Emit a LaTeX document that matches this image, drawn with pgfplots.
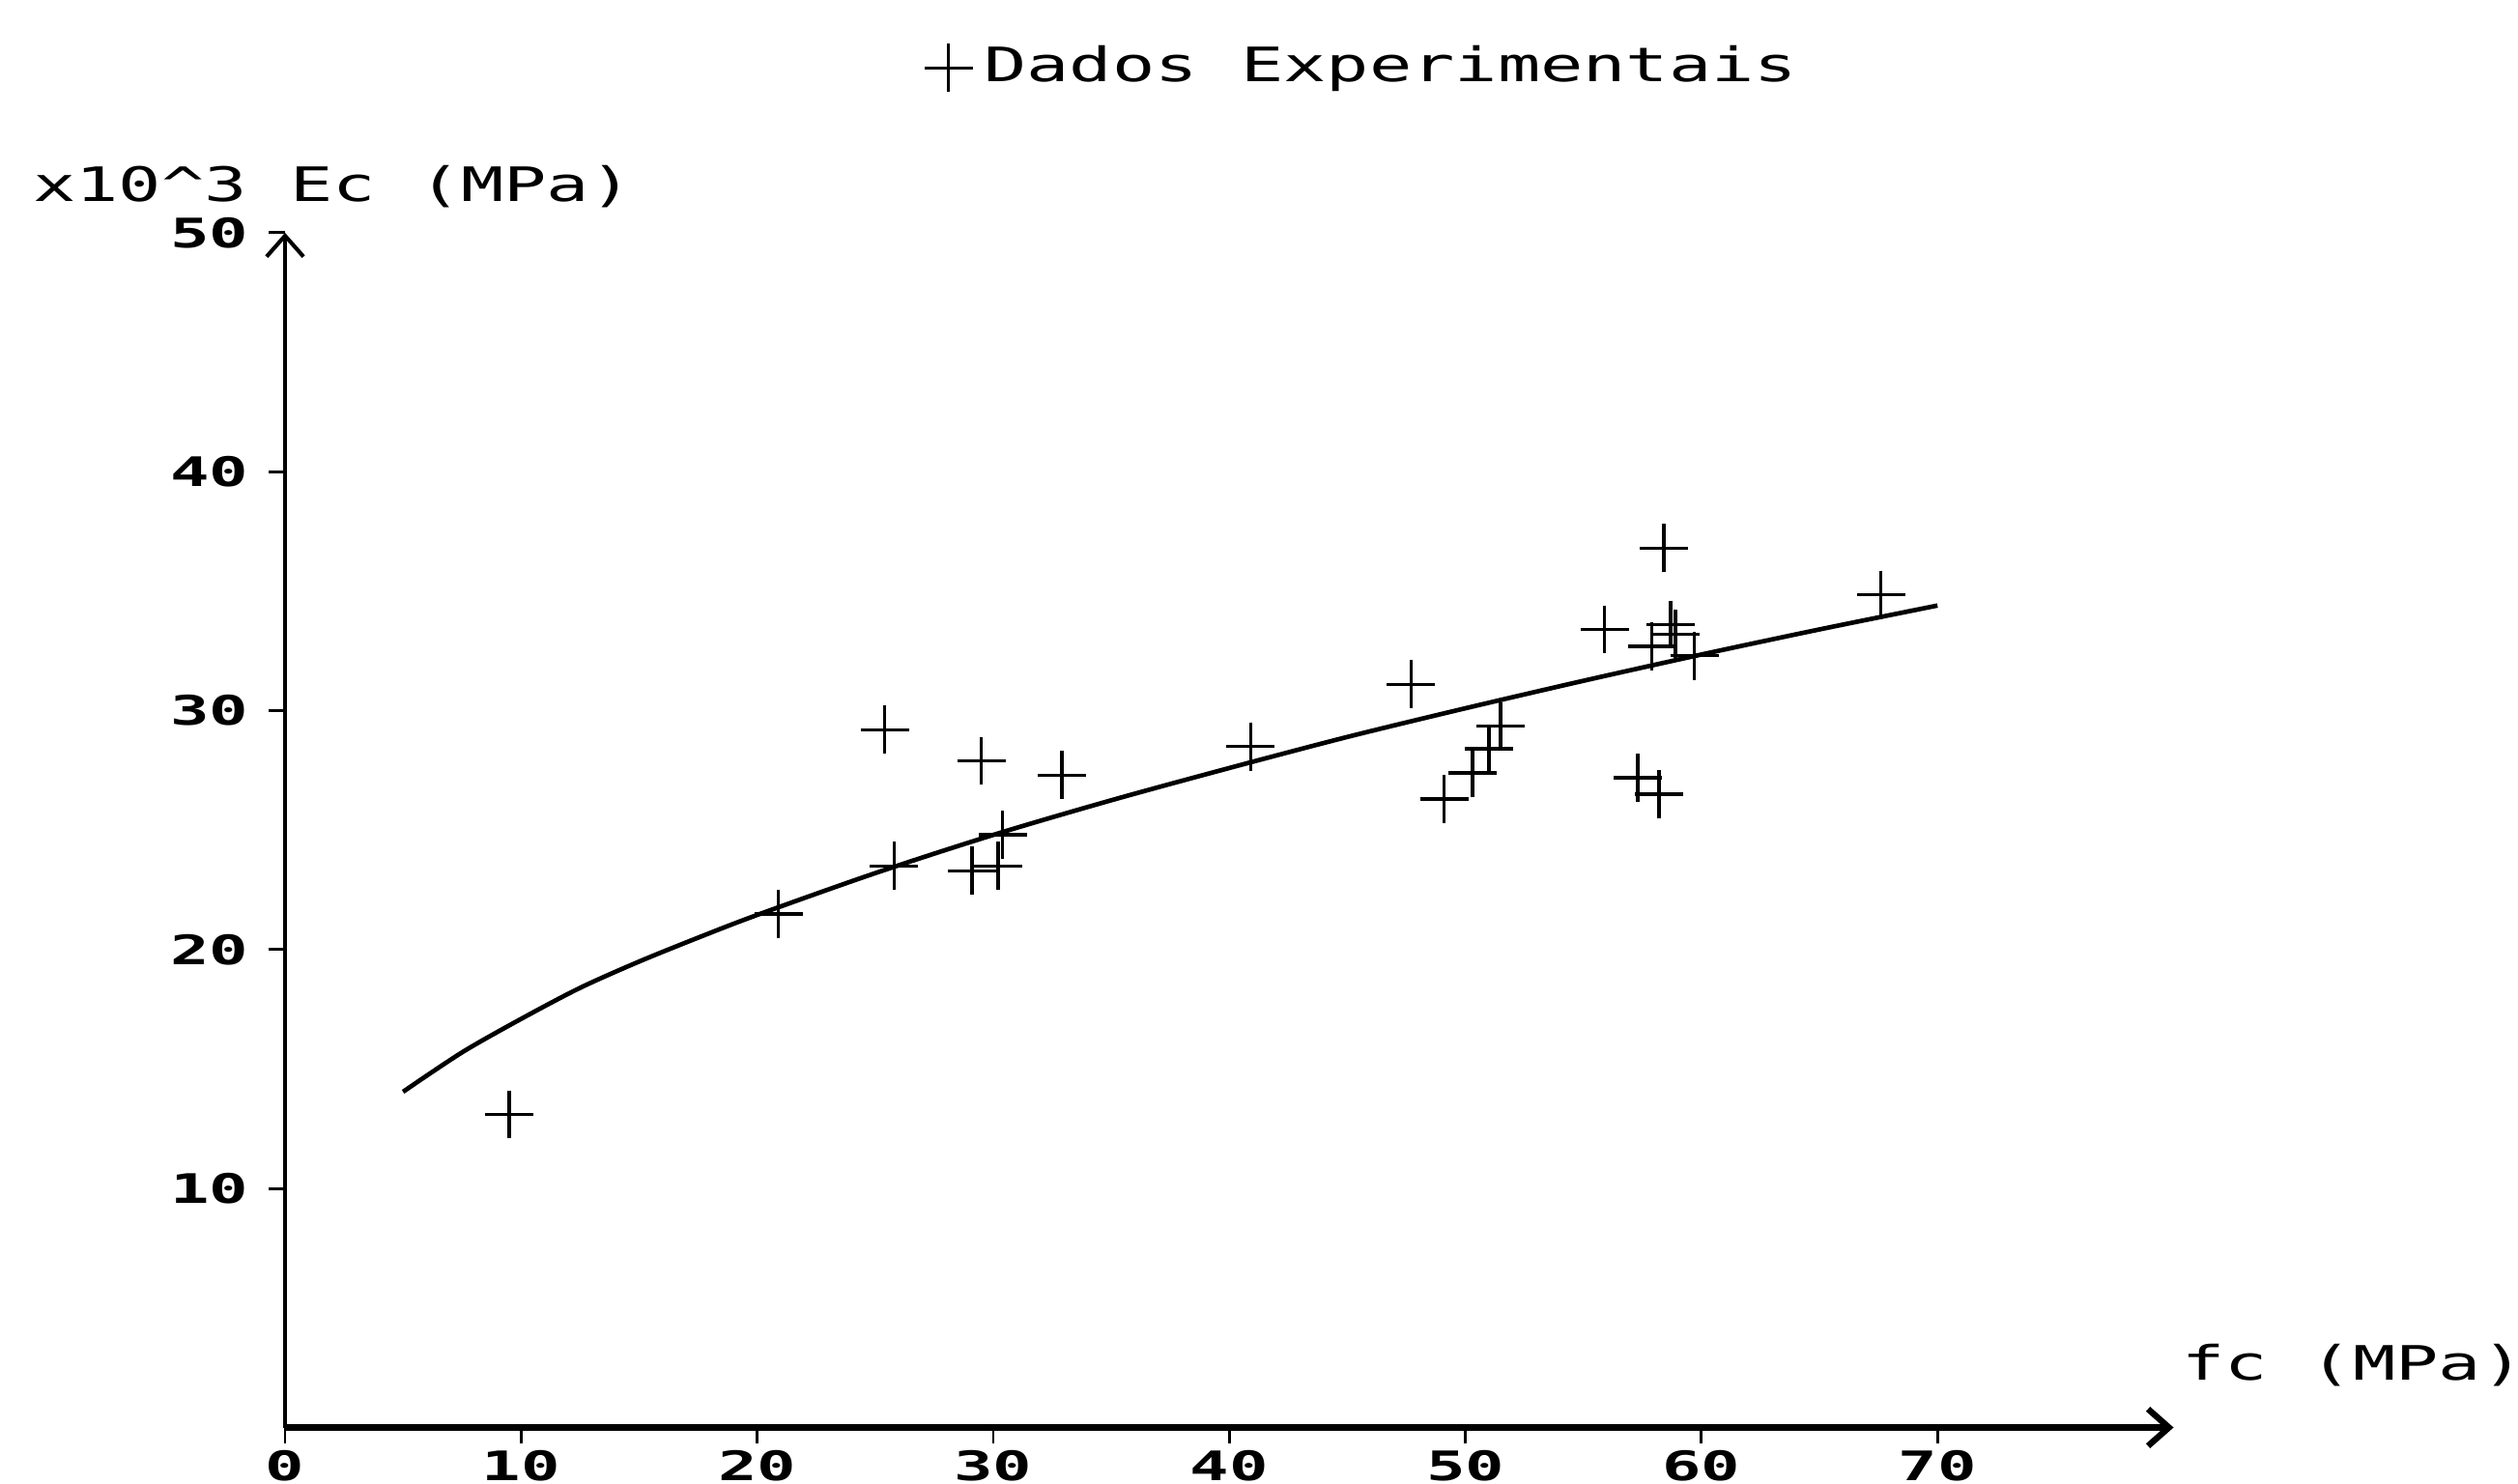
\documentclass[border=0pt]{standalone}
\usepackage{fontspec}
\usepackage{pgfplots}
\pgfplotsset{compat=1.18}
\usetikzlibrary{arrows.meta}
\setmainfont{DejaVu Sans Mono}
\newfontfamily\labfont[FakeStretch=1.5]{DejaVu Sans Mono}
\newfontfamily\tickfont[FakeStretch=1.6]{DejaVu Sans Mono}

\begin{document}
\begin{tikzpicture}
\useasboundingbox (0,0) rectangle (156.8mm,92.4mm);
\begin{axis}[
  at={(17.75mm,3.5mm)}, anchor=origin,
  x=1.47mm, y=1.488mm,
  xmin=0, xmax=80, ymin=0, ymax=50,
  axis lines=left,
  x axis line style={line width=1.1pt, -{Straight Barb[length=1.3mm,width=2.3mm]}},
  y axis line style={line width=0.7pt, -{Straight Barb[length=1.3mm,width=2.3mm]}},
  xtick={0,10,...,70}, ytick={10,20,...,50},
  tick align=outside, major tick length=1mm,
  tick style={line width=0.5pt, black},
  /pgf/number format/assume math mode=true,
  ticklabel style={font={\tickfont\bfseries\fontsize{7.2}{8}\selectfont}},
  xticklabel style={anchor=north, inner sep=0pt, yshift=-0.35mm},
  yticklabel style={anchor=east, inner sep=0pt, xshift=-1.2mm},
  xlabel={fc (MPa)}, ylabel={x10\textasciicircum 3 Ec (MPa)},
  label style={font={\labfont\fontsize{8.4}{9}\selectfont}},
  xlabel style={at={(axis description cs:1.00375,0.052)}, anchor=west, inner sep=0pt},
  ylabel style={at={(axis description cs:-0.134,1.039)}, anchor=west, rotate=-90, inner sep=0pt},
  clip=false,
  legend style={at={(axis description cs:0.338,1.138)}, anchor=west, draw=none, fill=none,
    inner sep=0pt, font={\labfont\fontsize{8.4}{9}\selectfont}},
  legend image code/.code={\draw[mark=+, mark size=1.5mm, line width=0.6pt] plot coordinates {(1.5mm,0mm)};},
]
% dados experimentais
\addplot[only marks, mark=+, mark size=1.5mm, line width=0.6pt, black] coordinates {
  (9.5,13.1) (20.9,21.5) (25.4,29.2) (25.8,23.5) (29.1,23.3) (29.5,27.9)
  (30.2,23.5) (30.4,24.8) (32.9,27.3) (40.9,28.5) (47.7,31.1) (49.1,26.3)
  (50.3,27.4) (51.0,28.4) (51.5,29.35) (55.9,33.4) (57.3,27.2) (57.9,32.7)
  (58.2,26.5) (58.4,36.8) (58.7,33.6) (58.9,33.2) (59.7,32.3) (67.6,34.85)
};
\addlegendentry{Dados Experimentais}
% curva ajustada
\addplot[black, line width=0.8pt, smooth, forget plot] coordinates {
  (5,14.05) (7.5,15.7) (10,17.1) (12.5,18.4) (15,19.5) (17.5,20.5)
  (20,21.45) (25,23.2) (30,24.8) (35,26.25) (40,27.6) (45,28.9)
  (50,30.1) (55,31.25) (60,32.35) (65,33.4) (70,34.4)
};
\end{axis}
\end{tikzpicture}
\end{document}
